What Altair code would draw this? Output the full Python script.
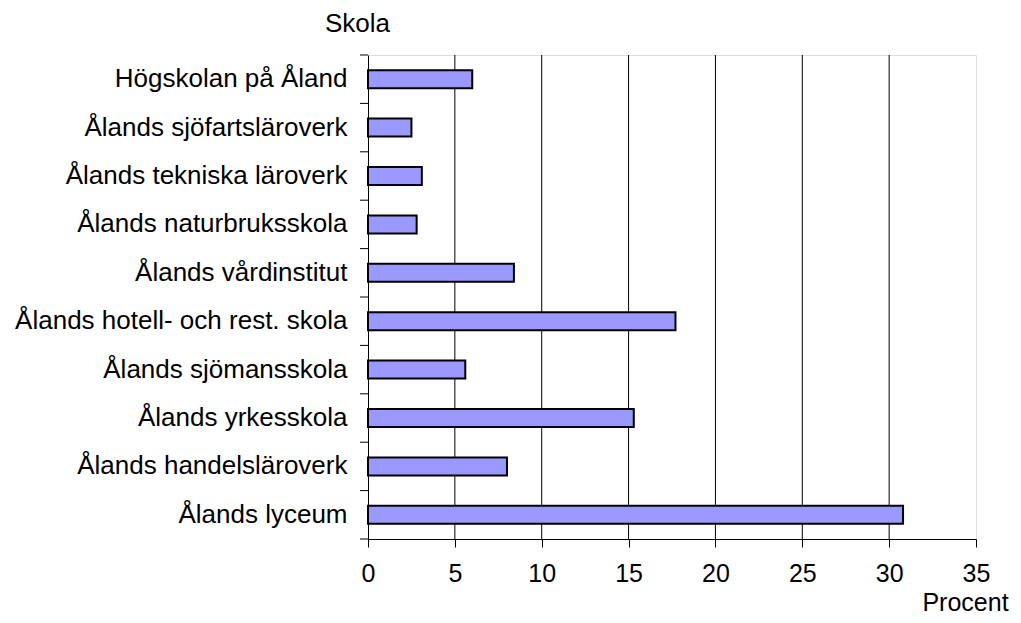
import altair as alt
import pandas as pd

schools = [
    "Högskolan på Åland",
    "Ålands sjöfartsläroverk",
    "Ålands tekniska läroverk",
    "Ålands naturbruksskola",
    "Ålands vårdinstitut",
    "Ålands hotell- och rest. skola",
    "Ålands sjömansskola",
    "Ålands yrkesskola",
    "Ålands handelsläroverk",
    "Ålands lyceum",
]
percent = [6.0, 2.5, 3.1, 2.8, 8.4, 17.7, 5.6, 15.3, 8.0, 30.8]
x_ticks = [0, 5, 10, 15, 20, 25, 30, 35]
grid_values = [5, 10, 15, 20, 25, 30]

FONT = "Liberation Sans"
FS = 26
FSX = 25

df = pd.DataFrame({"Skola": schools, "Procent": percent})
grid_df = pd.DataFrame({"v": grid_values})
tick_df = pd.DataFrame({"Skola": schools})
last_df = pd.DataFrame({"Skola": [schools[-1]]})

yscale = alt.Scale(domain=schools, paddingInner=0, paddingOuter=0)
xscale = alt.Scale(domain=[0, 35], nice=False)

bars = alt.Chart(df).mark_bar(
    color="#9999FF", stroke="black", strokeWidth=2, size=18
).encode(
    x=alt.X("Procent:Q", scale=xscale,
            axis=alt.Axis(values=x_ticks, grid=False, tickSize=8, tickColor="black",
                          tickWidth=1, domainColor="black", domainWidth=1,
                          labelFont=FONT, labelFontSize=FSX, labelColor="black",
                          labelPadding=14, labelFlush=False,
                          title="Procent", titleFont=FONT, titleFontSize=FSX,
                          titleFontWeight="normal", titleColor="black",
                          titleAlign="center", titleBaseline="alphabetic",
                          titleX=597, titleY=71)),
    y=alt.Y("Skola:N", scale=yscale, sort=schools,
            axis=alt.Axis(ticks=False, grid=False, domainColor="black", domainWidth=1,
                          labelFont=FONT, labelFontSize=FS, labelColor="black",
                          labelPadding=21, labelLimit=500,
                          title="Skola", titleFont=FONT, titleFontSize=FS,
                          titleFontWeight="normal", titleColor="black",
                          titleAngle=0, titleAlign="center", titleBaseline="alphabetic",
                          titleX=-11, titleY=-24)),
)

grid = alt.Chart(grid_df).mark_rule(color="black", strokeWidth=1).encode(
    x=alt.X("v:Q", scale=xscale),
)

yticks = alt.Chart(tick_df).mark_rule(color="black", strokeWidth=1).encode(
    y=alt.Y("Skola:N", scale=yscale, sort=schools, bandPosition=0),
    x=alt.value(-8),
    x2=alt.value(0),
)

ytick_last = alt.Chart(last_df).mark_rule(color="black", strokeWidth=1).encode(
    y=alt.Y("Skola:N", scale=yscale, sort=schools, bandPosition=1),
    x=alt.value(-8),
    x2=alt.value(0),
)

chart = alt.layer(grid, yticks, ytick_last, bars).properties(
    width=608,
    height=484,
    autosize=alt.AutoSizeParams(type="none"),
    padding={"left": 360, "top": 47, "right": 37, "bottom": 77},
).configure_view(
    stroke="#808080", strokeWidth=2
).configure(background="white")

chart.save("out.html", embed_options={"renderer": "svg", "actions": False})
